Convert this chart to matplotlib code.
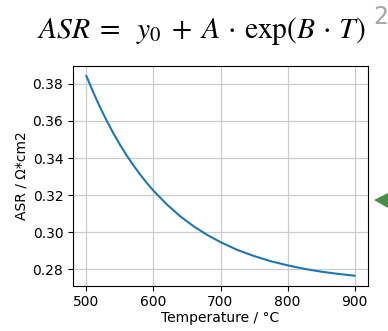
import matplotlib
matplotlib.use("Agg")
import matplotlib.pyplot as plt
from matplotlib.patches import Polygon

# Data
temperature = [500, 510, 520, 530, 540, 550, 560, 570, 580, 590, 600, 620, 640, 660, 680,
               700, 725, 750, 775, 800, 825, 850, 875, 900]
asr = [0.3842, 0.3756, 0.3676, 0.3603, 0.3535, 0.3472, 0.3414, 0.3361, 0.3312, 0.3266,
       0.3224, 0.3150, 0.3086, 0.3032, 0.2986,
       0.2947, 0.2905, 0.2872, 0.2844, 0.2822, 0.2803, 0.2788, 0.2776, 0.2766]
xticks = [500, 600, 700, 800, 900]
yticks = [0.28, 0.30, 0.32, 0.34, 0.36, 0.38]

plt.rcParams['mathtext.fontset'] = 'stix'
fig = plt.figure(figsize=(3.88, 3.31), dpi=100)
ax = fig.add_axes([73/388, 1-285.7/331, (368-73)/388, (285.7-66)/331])
ax.plot(temperature, asr, color='#1f77b4', lw=1.5)
ax.set_xticks(xticks)
ax.set_yticks(yticks)
ax.set_yticklabels([f"{v:.2f}" for v in yticks])
ax.grid(True, color='#cccccc', lw=0.9)
ax.set_xlabel('Temperature / °C', labelpad=1)
ax.set_ylabel('ASR / Ω*cm2', labelpad=3)

fig.text(201/388, 1-38/331,
         r'$ASR\;=\;\;y_0\;+\;A\,\cdot\,\mathrm{exp}(B\,\cdot\,T)$',
         ha='center', va='baseline', fontsize=21.3)
fig.text(381/388, 1-24/331, '2', ha='center', va='baseline', fontsize=17, color='#a6a6a6')

tri = Polygon([[374/388, 1-200/331], [388/388, 1-193/331], [388/388, 1-208/331]],
              closed=True, transform=fig.transFigure, facecolor='#4a8c4a', edgecolor='none')
fig.patches.append(tri)

fig.savefig('out.png', dpi=100)
